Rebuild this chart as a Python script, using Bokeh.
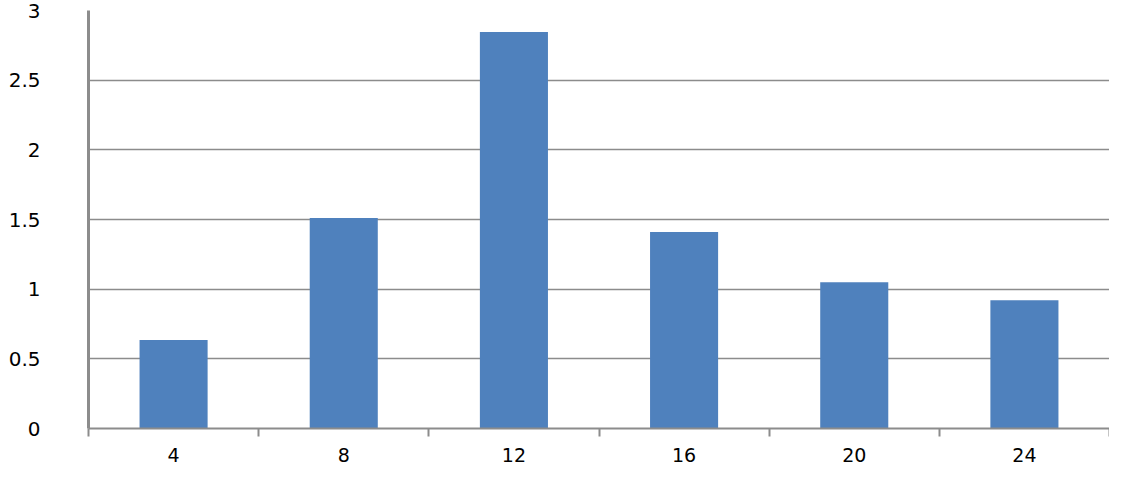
from bokeh.plotting import figure
from bokeh.models import FixedTicker, ColumnDataSource, Range1d
from bokeh.embed import file_html
from bokeh.resources import INLINE

categories = ["4", "8", "12", "16", "20", "24"]
values = [0.635, 1.51, 2.845, 1.41, 1.05, 0.92]
y_ticks = [0, 0.5, 1, 1.5, 2, 2.5, 3]
y_tick_labels = ["0", "0.5", "1", "1.5", "2", "2.5", "3"]

n = len(categories)
centers = [i + 0.5 for i in range(n)]
source = ColumnDataSource(dict(x=centers, top=values, cat=categories))

p = figure(width=1109, height=464, output_backend="svg", toolbar_location=None,
           x_range=Range1d(0, n), y_range=Range1d(0, 3),
           min_border_left=88, min_border_right=0, min_border_top=10, min_border_bottom=36)
p.outline_line_color = None
p.background_fill_color = "white"
p.border_fill_color = "white"

p.vbar(x="x", top="top", width=0.4, bottom=0, source=source,
       fill_color="#4F81BD", line_color=None)

GRAY = "#8c8c8c"
FONT = "DejaVu Sans"

# x axis: labels at centers, minor ticks at boundaries
xa = p.xaxis[0]
xa.ticker = FixedTicker(ticks=centers, minor_ticks=list(range(n + 1)))
xa.major_label_overrides = {c: lab for c, lab in zip(centers, categories)}
xa.major_tick_line_color = None
xa.minor_tick_line_color = GRAY
xa.minor_tick_line_width = 2
xa.minor_tick_in = 0
xa.minor_tick_out = 8
xa.axis_line_color = GRAY
xa.axis_line_width = 2
xa.major_label_text_font = FONT
xa.major_label_text_font_size = "19px"
xa.major_label_text_color = "black"
xa.major_label_standoff = 11

ya = p.yaxis[0]
ya.ticker = FixedTicker(ticks=y_ticks)
ya.major_label_overrides = {t: lab for t, lab in zip(y_ticks, y_tick_labels)}
ya.major_tick_line_color = None
ya.minor_tick_line_color = None
ya.axis_line_color = GRAY
ya.axis_line_width = 3
ya.major_label_text_font = FONT
ya.major_label_text_font_size = "20px"
ya.major_label_text_color = "black"
ya.major_label_standoff = 42

p.xgrid.grid_line_color = None
p.ygrid.ticker = FixedTicker(ticks=y_ticks)
p.ygrid.grid_line_color = GRAY
p.ygrid.grid_line_width = 1.5

open("out.html", "w").write(file_html(p, INLINE))
